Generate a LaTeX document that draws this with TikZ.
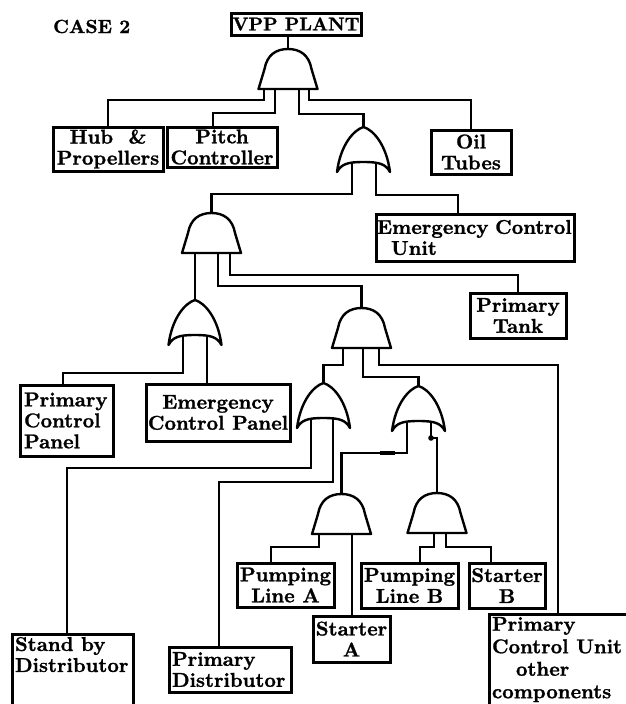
\documentclass[tikz,border=0pt]{standalone}
\usepackage{fontspec}
\usetikzlibrary{calc}
\newfontfamily\heavyfont{lmroman10-bold.otf}[FakeBold=1.2]
\newcommand{\lblfont}{\fontsize{20}{21}\selectfont\heavyfont}
\newcommand{\casefont}{\fontsize{19}{20}\selectfont\heavyfont}
\tikzset{
  box/.style={draw, line width=3pt, inner sep=1pt, font=\lblfont, align=center},
  wire/.style={line width=2.8pt},
  gate/.style={draw, line width=2.4pt, fill=white, line join=round},
  andg/.pic={\path[gate] (-29.5,40) -- (-23.5,20) .. controls (-21,6) and (-12,0) .. (0,0)
      .. controls (12,0) and (21,6) .. (23.5,20) -- (29.5,40) -- cycle;},
  org/.pic={\path[gate] (0,0) .. controls (10,3) and (23,18) .. (26.5,45)
      .. controls (22,37) and (16,35) .. (0,35) .. controls (-16,35) and (-22,37) .. (-26.5,45)
      .. controls (-23,18) and (-10,3) .. (0,0) -- cycle;},
}
\begin{document}
\begin{tikzpicture}[x=1pt,y=-1pt]
\useasboundingbox (0,0) rectangle (625,704);

% title
\node[font=\casefont, anchor=base west, inner sep=0pt] (case) at (53,33) {CASE 2};

% boxes
\node[box, font=\fontsize{18.5}{20}\selectfont\heavyfont, minimum width=130pt, minimum height=22pt, inner sep=0pt] (vpp) at (296,24) {VPP PLANT};
\node[box, minimum width=110pt, minimum height=44pt] (hub) at (108,149) {Hub~~\&\\Propellers};
\node[box, minimum width=110pt, minimum height=40pt] (pitch) at (222,147) {Pitch\\Controller};
\node[box, minimum width=80pt, minimum height=44pt] (oil) at (471,152) {Oil\\Tubes};
\node[box, align=left, text width=196pt, minimum height=47pt] (ecu) at (475,237.5) {Emergency Control\\\hspace*{14pt}Unit};
\node[box, minimum width=96pt, minimum height=45pt] (tank) at (518,315.5) {Primary\\Tank};
\node[box, align=left, inner sep=4pt, text width=85pt, minimum height=71pt] (pcp) at (66.5,420.5) {Primary\\Control\\Panel};
\node[box, minimum width=144pt, minimum height=57pt] (ecp) at (218,412.5) {Emergency\\Control Panel};
\node[box, minimum width=97pt, minimum height=44pt] (pla) at (285.5,585) {Pumping\\Line A};
\node[box, minimum width=97pt, minimum height=45pt] (plb) at (409.5,585.5) {Pumping\\Line B};
\node[box, minimum width=76pt, minimum height=45pt] (sb) at (507,585.5) {Starter\\B};
\node[box, minimum width=77pt, minimum height=46pt] (sa) at (351.5,639) {Starter\\A};
\node[box, align=left, inner sep=3pt] (sbd) at (72.5,673) {\parbox[t][72pt][t]{115pt}{Stand by\\Distributor}};
\node[box, align=left, inner sep=3pt, text width=116pt, minimum height=45pt] (pd) at (230,669.5) {Primary\\Distributor};
\node[box, align=left, inner sep=3pt] (pcu) at (560.5,663) {\parbox[t][92pt][t]{137pt}{\fontsize{20}{22.5}\selectfont Primary\\Control Unit\\\hspace*{24pt}other\\components}};

% gate positions (top points)
\coordinate (g1) at (288,49);
\coordinate (g2) at (363.5,127);
\coordinate (g3) at (211.5,213);
\coordinate (g4) at (195,300);
\coordinate (g5) at (361.5,308);
\coordinate (g6) at (323.5,383);
\coordinate (g7) at (418.5,386);
\coordinate (g8) at (341.5,494);
\coordinate (g9) at (437,493);

% wires
\draw[wire] (vpp.south -| g1) -- (g1);
\draw[wire] ($(g1)+(-24,30)$) -- ++(0,21) -| (hub.north);
\draw[wire] ($(g1)+(-13,30)$) -- ++(0,34) -| ([xshift=-9pt]pitch.north);
\draw[wire] ($(g1)+(11,30)$) -- ++(0,35) -| (g2);
\draw[wire] ($(g1)+(21,30)$) -- ++(0,21) -| (oil.north);

\draw[wire] ($(g2)+(-11.5,32)$) -- ++(0,35) -| (g3);
\draw[wire] ($(g2)+(12.5,32)$) -- ++(0,36) -| ([xshift=-17pt]ecu.north);

\draw[wire] ($(g3)+(-16.5,25)$) -- (g4);
\draw[wire] ($(g3)+(6.5,25)$) -- ++(0,48) -| (g5);
\draw[wire] ($(g3)+(18.5,25)$) -- ++(0,37) -| (tank.north);

\draw[wire] ($(g4)+(-12,30)$) -- ++(0,43) -| ([xshift=-3.5pt]pcp.north);
\draw[wire] ($(g4)+(12,30)$) coordinate (p4) -- (p4 |- ecp.north);

\draw[wire] ($(g5)+(-18.5,25)$) -- ++(0,32) -| (g6);
\draw[wire] ($(g5)+(1.5,25)$) -- ++(0,44) -| (g7);
\draw[wire] ($(g5)+(17.5,25)$) -- ++(0,32) -| ([xshift=-2.5pt]pcu.north);

\draw[wire] ($(g6)+(-12.5,30)$) -- ++(0,55) -| ([xshift=-5.5pt]sbd.north);
\draw[wire] ($(g6)+(9.5,30)$) -- ++(0,69) -| ([xshift=-11pt]pd.north);

\draw[wire] ($(g7)+(-11.5,30)$) -- ++(0,37) -| (g8);
\draw[wire] ($(g7)+(12.5,30)$) coordinate (p7) -- ++(0,22) -| (g9);
\draw[line width=4.5pt] (380,453) -- (395,453);
\fill ($(p7)+(0,22)$) circle (2.8pt);

\draw[wire] ($(g8)+(-22.5,25)$) -- ++(0,28) -| ([xshift=-14.5pt]pla.north);
\draw[wire] ($(g8)+(10.5,25)$) coordinate (p8) -- (p8 |- sa.north);

\draw[wire] ($(g9)+(-3,25)$) -- ++(0,29) -| ([xshift=10.5pt]plb.north);
\draw[wire] ($(g9)+(9,25)$) -- ++(0,29) -| ([xshift=-16pt]sb.north);

% gates
\pic at (g1) {andg};
\pic at (g2) {org};
\pic at (g3) {andg};
\pic at (g4) {org};
\pic at (g5) {andg};
\pic at (g6) {org};
\pic at (g7) {org};
\pic at (g8) {andg};
\pic at (g9) {andg};
\end{tikzpicture}
\end{document}
